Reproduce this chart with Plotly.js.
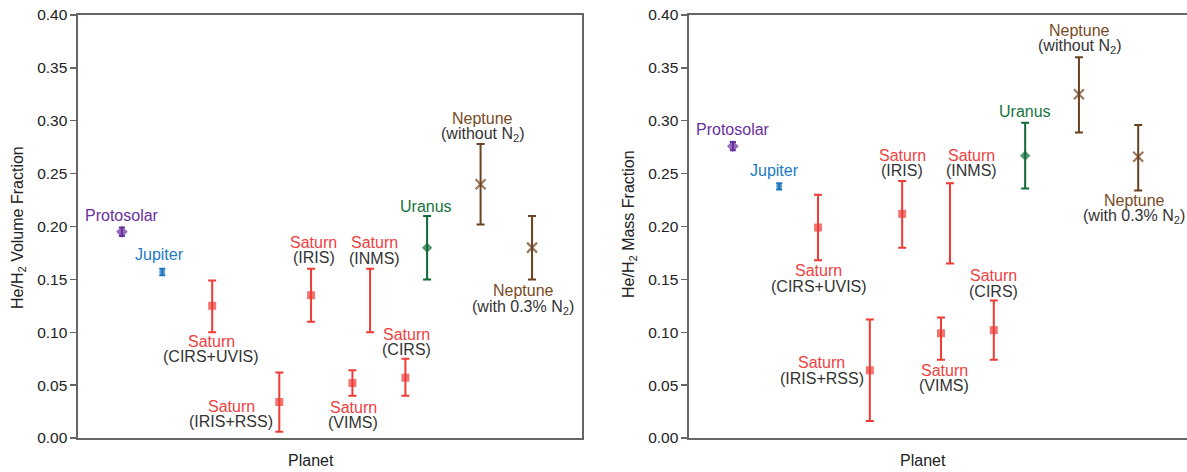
<!DOCTYPE html>
<html>
<head>
<meta charset="utf-8">
<script src="https://cdn.plot.ly/plotly-3.0.1.min.js"></script>
<style>html,body{margin:0;padding:0;background:#fff;}#chart{width:1187px;height:472px;}</style>
</head>
<body>
<div id="chart"></div>
<script>
// ---------- data ----------
const groups    = ["Protosolar","Jupiter","Saturn","Saturn","Saturn","Saturn","Saturn","Saturn","Uranus","Neptune","Neptune"];
const subLabels = ["","","(CIRS+UVIS)","(IRIS+RSS)","(IRIS)","(INMS)","(VIMS)","(CIRS)","","(without N<sub>2</sub>)","(with 0.3% N<sub>2</sub>)"];
const hasMarker = [true,true,true,true,true,false,true,true,true,true,true];

// He/H2 volume fraction (left panel)
const volX  = [0.87,1.67,2.66,3.99,4.62,5.79,5.44,6.49,6.92,7.98,9.00];
const volY  = [0.195,0.157,0.125,0.034,0.135,0.130,0.052,0.057,0.180,0.240,0.180];
const volHi = [0.199,0.160,0.149,0.062,0.160,0.160,0.064,0.075,0.210,0.278,0.210];
const volLo = [0.191,0.154,0.100,0.006,0.110,0.100,0.040,0.040,0.150,0.202,0.150];

// He/H2 mass fraction (right panel)
const massX  = [0.88,1.81,2.59,3.63,4.28,5.24,5.06,6.12,6.75,7.83,9.02];
const massY  = [0.276,0.238,0.199,0.064,0.212,0.203,0.099,0.102,0.267,0.325,0.266];
const massHi = [0.280,0.241,0.230,0.112,0.243,0.241,0.114,0.130,0.298,0.360,0.296];
const massLo = [0.272,0.235,0.168,0.016,0.180,0.165,0.074,0.074,0.236,0.289,0.234];

// ---------- styles ----------
const FONT = "Liberation Sans, Arial, Helvetica, sans-serif";
const style = {
  Protosolar: {color:"#6a2f9c", text:"#6a2f9c", symbol:"diamond", size:9, cap:3},
  Jupiter:    {color:"#1b75bc", text:"#1b7ac6", symbol:"circle", size:6, cap:3},
  Saturn:     {color:"#ee3b36", text:"#f0413f", symbol:"square", size:8, cap:4},
  Uranus:     {color:"#0f6a36", text:"#16743e", symbol:"diamond", size:8, cap:4},
  Neptune:    {color:"#6b4220", text:"#7a4a1f", symbol:"x-thin-open", size:10, cap:4}
};
const order = ["Protosolar","Jupiter","Saturn","Uranus","Neptune"];

// label offsets in px [dx, dyName, dySub] (positive = up)
const offVol = [[0,16,0],[-3,17.7,0],[-1,-35.7,-50.4],[-48,-4.7,-19.7],[2.5,53,37.4],[4,57.8,42.2],[1,-24,-39],[1,43,28.7],[-1,41,0],[2,66,50],[-9,-42.7,-60]];
const offMass = [[0,16.4,0],[-4.5,16,0],[0.6,-43.4,-58.7],[-48,7.4,-8.3],[0,58.3,43.3],[22,68.3,53.3],[3,-37.4,-52.4],[0,54.3,39],[0,44,0],[1,64.3,48.3],[-4,-43.3,-60]];

const traces = [];
const annotations = [];

function addPanel(X, Y, Hi, Lo, xa, ya, offs) {
  order.forEach(g => {
    const idx = groups.map((v,i)=>v===g?i:-1).filter(i=>i>=0);
    const s = style[g];
    traces.push({
      type:"scatter", mode:"markers",
      x: idx.map(i=>X[i]), y: idx.map(i=>Y[i]),
      xaxis: xa, yaxis: ya, showlegend:false, hoverinfo:"skip",
      marker: {
        symbol: s.symbol, color: s.color,
        size: idx.map(i=>hasMarker[i]? s.size : 0),
        line: {color: s.color, width: g==="Neptune"?2.2:0}
      },
      error_y: {
        type:"data", symmetric:false,
        array: idx.map(i=>Hi[i]-Y[i]),
        arrayminus: idx.map(i=>Y[i]-Lo[i]),
        color: s.color, thickness: 2, width: s.cap
      }
    });
  });
  groups.forEach((g,i) => {
    const s = style[g];
    const o = offs[i];
    annotations.push({
      x: X[i], y: Y[i], xref: xa, yref: ya, showarrow:false,
      xanchor:"center", yanchor:"middle",
      text: g, xshift: o[0], yshift: o[1],
      font: {family: FONT, size: 16, color: s.text}
    });
    if (subLabels[i]) {
      annotations.push({
        x: X[i], y: Y[i], xref: xa, yref: ya, showarrow:false,
        xanchor:"center", yanchor:"middle",
        text: subLabels[i], xshift: o[0], yshift: o[2],
        font: {family: FONT, size: 16, color: "#333333"}
      });
    }
  });
}

addPanel(volX, volY, volHi, volLo, "x", "y", offVol);
addPanel(massX, massY, massHi, massLo, "x2", "y2", offMass);

// axis titles as annotations
const L = 78, W = 1109, T = 15, H = 423;
const px = v => (v - L) / W;
const py = v => (T + H - v) / H;
const tf = {family:FONT, size:16, color:"#222"};
annotations.push({xref:"paper", yref:"paper", x:px(311), y:py(460), xanchor:"center", yanchor:"middle", showarrow:false, text:"Planet", font:tf});
annotations.push({xref:"paper", yref:"paper", x:px(923), y:py(460), xanchor:"center", yanchor:"middle", showarrow:false, text:"Planet", font:tf});
annotations.push({xref:"paper", yref:"paper", x:px(19), y:py(228), xanchor:"center", yanchor:"middle", showarrow:false, textangle:-90, text:"He/H<sub>2</sub> Volume Fraction", font:tf});
annotations.push({xref:"paper", yref:"paper", x:px(629), y:py(224), xanchor:"center", yanchor:"middle", showarrow:false, textangle:-90, text:"He/H<sub>2</sub> Mass Fraction", font:tf});

const xBase = {range:[0,10], showticklabels:false, ticks:"", showgrid:false, zeroline:false,
  showline:true, linecolor:"#666", linewidth:1.6, mirror:true};
const yBase = {range:[0,0.4], dtick:0.05, tickformat:".2f", ticks:"outside", ticklen:6, tickwidth:1.3,
  tickcolor:"#666", showgrid:false, zeroline:false, showline:true, linecolor:"#666", linewidth:1.6,
  tickfont:{family:FONT, size:15.5, color:"#222"}};

const layout = {
  width:1187, height:472,
  margin:{l:78, r:0, t:15, b:34},
  paper_bgcolor:"#fff", plot_bgcolor:"#fff",
  font:{family:FONT},
  xaxis: Object.assign({}, xBase, {domain:[0, 0.4549], anchor:"y"}),
  yaxis: Object.assign({}, yBase, {anchor:"x", mirror:true}),
  xaxis2: Object.assign({}, xBase, {domain:[0.5510, 1], anchor:"y2"}),
  yaxis2: Object.assign({}, yBase, {anchor:"x2", mirror:false}),
  annotations: annotations
};

Plotly.newPlot("chart", traces, layout, {displayModeBar:false, staticPlot:true});
</script>
</body>
</html>
